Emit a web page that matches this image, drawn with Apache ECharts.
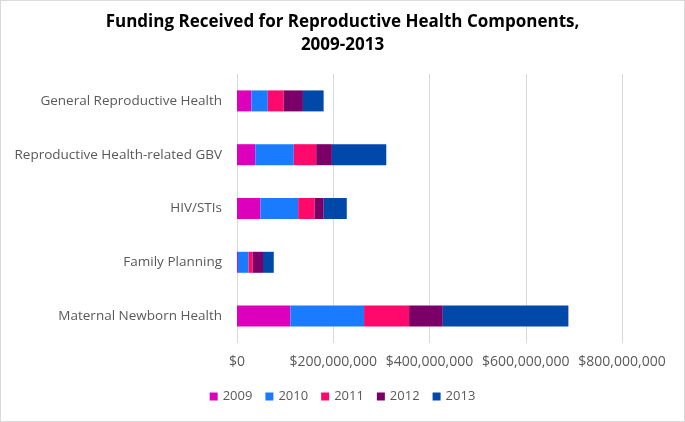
<!DOCTYPE html>
<html>
<head>
<meta charset="utf-8">
<script src="https://cdn.jsdelivr.net/npm/echarts@6/dist/echarts.min.js"></script>
<style>
  html, body { margin: 0; padding: 0; background: #fff; }
  #chart { width: 683px; height: 420px; border: 1px solid #d9d9d9; }
</style>
</head>
<body>
<div id="chart"></div>
<script>
// categories, top to bottom
var categories = ['General Reproductive Health', 'Reproductive Health-related GBV', 'HIV/STIs', 'Family Planning', 'Maternal Newborn Health'];
var years = ['2009', '2010', '2011', '2012', '2013'];
var colors = ['#DC00BC', '#1A7BFF', '#FF0A6C', '#7A0068', '#0048AA'];

// funding, $ millions, per year
var v2009 = [30, 38, 48.6, 2, 111];
var v2010 = [34, 80, 78.5, 22, 153];
var v2011 = [33, 46.6, 34, 8.6, 93.6];
var v2012 = [40, 32.6, 19, 21.4, 70];
var v2013 = [43, 113, 48, 22.4, 261];
var values = [v2009, v2010, v2011, v2012, v2013];

var xTicks = [0, 200000000, 400000000, 600000000, 800000000];

(function () {
    var chart = echarts.init(document.getElementById('chart'));
    var font = '"Open Sans", "Liberation Sans", sans-serif';

    var series = years.map(function (y, i) {
        return {
            name: y,
            type: 'bar',
            stack: 'total',
            barWidth: 21,
            itemStyle: { color: colors[i] },
            data: values[i].map(function (v) { return v * 1000000; })
        };
    });

    var option = {
        animation: false,
        title: {
            text: 'Funding Received for Reproductive Health Components,\n2009-2013',
            left: 'center',
            top: 5,
            textStyle: { fontFamily: font, fontSize: 17, fontWeight: 'bold', color: '#000', lineHeight: 23 }
        },
        legend: {
            bottom: 13,
            left: 'center',
            itemWidth: 8,
            itemHeight: 8,
            itemGap: 13,
            icon: 'rect',
            textStyle: { fontFamily: font, fontSize: 13, color: '#595959' },
            data: years
        },
        grid: { left: 236, right: 62, top: 73, bottom: 78, containLabel: false },
        xAxis: {
            type: 'value',
            min: 0,
            max: xTicks[xTicks.length - 1],
            interval: 200000000,
            axisLine: { show: false },
            axisTick: { show: false },
            splitLine: { lineStyle: { color: '#d9d9d9' } },
            axisLabel: {
                fontFamily: font, fontSize: 14, color: '#595959', margin: 12,
                formatter: function (v) { return '$' + v.toLocaleString('en-US'); }
            }
        },
        yAxis: {
            type: 'category',
            inverse: true,
            data: categories,
            axisLine: { show: false },
            axisTick: { show: false },
            axisLabel: { fontFamily: font, fontSize: 13.5, color: '#595959', margin: 15 }
        },
        series: series
    };

    chart.setOption(option);
})();
</script>
</body>
</html>
